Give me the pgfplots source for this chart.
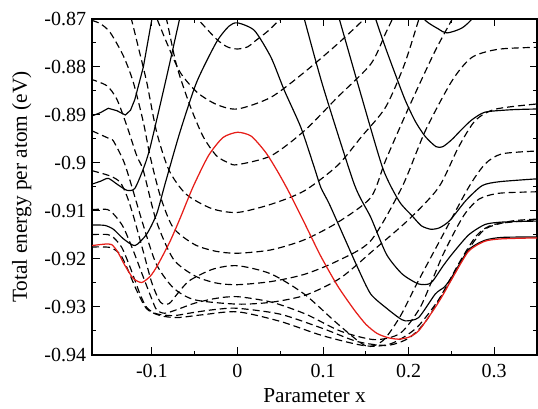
\documentclass[border=0pt]{standalone}
\usepackage{pgfplots}
\pgfplotsset{compat=1.18}
\usetikzlibrary{calc}
\usepackage{fontspec}
\setmainfont{Liberation Serif}
\definecolor{redline}{RGB}{230,30,25}
\begin{document}
\begin{tikzpicture}
\begin{axis}[
    scale only axis,
    width=267pt, height=201.6pt,
    xmin=-0.17, xmax=0.35, ymin=-0.94, ymax=-0.87,
    xtick={-0.1,0,0.1,0.2,0.3},
    ytick={-0.94,-0.93,-0.92,-0.91,-0.9,-0.89,-0.88,-0.87},
    minor x tick num=1, minor y tick num=1,
    tick align=inside, tickpos=both,
    major tick length=4.5pt, minor tick length=2.4pt,
    axis line style={line width=0.9pt},
    every tick/.style={line width=0.6pt, black},
    /pgf/number format/assume math mode=true,
    yticklabel style={/pgf/number format/fixed, /pgf/number format/precision=2},
    xticklabel style={/pgf/number format/fixed, yshift=-2pt},
    ticklabel style={font=\fontsize{12}{14}\selectfont},
    xlabel={Parameter x}, ylabel={Total energy per atom (eV)},
    label style={font=\fontsize{12.8}{15}\selectfont},
    xlabel style={at={(axis description cs:0.5,-0.122)}, anchor=center},
    ylabel style={at={(axis description cs:-0.158,0.5)}, anchor=center},
    every axis plot/.append style={line width=0.7pt},
]
\pgfplotsset{dsh/.style={black, dash pattern=on 4.2pt off 2.4pt, smooth, tension=0.45}}
% dashed curves with a minimum at x = 0
\addplot[dsh] coordinates {(-0.052,-0.8690) (-0.045,-0.8703) (-0.0245,-0.8742) (-0.012,-0.8758) (0,-0.87625) (0.012,-0.8758) (0.0198,-0.8747) (0.035,-0.8726) (0.05,-0.8700) (0.055,-0.8690)};
\addplot[dsh] coordinates {(-0.099,-0.8680) (-0.094,-0.8700) (-0.083,-0.8748) (-0.067,-0.8811) (-0.047,-0.8853) (-0.0245,-0.8878) (0,-0.88875) (0.0392,-0.8863) (0.0781,-0.8811) (0.1169,-0.8752) (0.148,-0.8700) (0.153,-0.8685)};
\addplot[dsh] coordinates {(-0.088,-0.8675) (-0.083,-0.8700) (-0.0711,-0.8797) (-0.0556,-0.8880) (-0.0401,-0.8945) (-0.0245,-0.8985) (-0.01,-0.9000) (0,-0.90035) (0.0392,-0.8985) (0.0781,-0.8933) (0.1169,-0.8863) (0.1557,-0.8794) (0.173,-0.8730) (0.181,-0.8700) (0.185,-0.8680)};
\addplot[dsh] coordinates {(-0.128,-0.8675) (-0.124,-0.8700) (-0.115,-0.8765) (-0.106,-0.8832) (-0.0944,-0.8936) (-0.08,-0.9015) (-0.06,-0.9065) (-0.03,-0.9095) (0,-0.9103) (0.0392,-0.9086) (0.0781,-0.9058) (0.117,-0.9005) (0.145,-0.8945) (0.173,-0.8884) (0.195,-0.8795) (0.212,-0.8700) (0.216,-0.8675)};
\addplot[dsh] coordinates {(-0.17,-0.8703) (-0.16,-0.8710) (-0.1488,-0.8728) (-0.1333,-0.8777) (-0.1217,-0.8832) (-0.11,-0.8915) (-0.1022,-0.8985) (-0.09,-0.9070) (-0.075,-0.9135) (-0.05,-0.9170) (-0.025,-0.9184) (0,-0.9188) (0.0392,-0.9181) (0.0781,-0.9160) (0.1169,-0.9124) (0.1557,-0.9072) (0.173,-0.8995) (0.20,-0.8885) (0.23,-0.8770) (0.251,-0.8700) (0.256,-0.8685)};
\addplot[dsh] coordinates {(-0.172,-0.8825) (-0.1527,-0.8839) (-0.141,-0.8867) (-0.1294,-0.8922) (-0.1177,-0.8985) (-0.11,-0.9016) (-0.095,-0.9120) (-0.075,-0.9200) (-0.05,-0.9235) (-0.025,-0.9250) (0,-0.92535) (0.0392,-0.9247) (0.0781,-0.9232) (0.1169,-0.9204) (0.1557,-0.9162) (0.1923,-0.9050) (0.2195,-0.8933) (0.2506,-0.8829) (0.2739,-0.8780) (0.3049,-0.8763) (0.35,-0.8759)};
\addplot[dsh] coordinates {(-0.17,-0.8933) (-0.1488,-0.8950) (-0.145,-0.8954) (-0.1333,-0.8995) (-0.1255,-0.9037) (-0.11,-0.9130) (-0.095,-0.9210) (-0.075,-0.9260) (-0.05,-0.9285) (0,-0.9294) (0.04,-0.9290) (0.08,-0.9275) (0.12,-0.9240) (0.16,-0.9180) (0.20,-0.9118) (0.235,-0.9051) (0.2583,-0.8967) (0.2777,-0.8912) (0.301,-0.8888) (0.35,-0.8877)};
% dashed curves with a maximum at x = 0
\addplot[dsh] coordinates {(-0.17,-0.9016) (-0.1488,-0.9027) (-0.1372,-0.9040) (-0.1294,-0.9068) (-0.1217,-0.9110) (-0.11,-0.9185) (-0.10,-0.9250) (-0.09,-0.9290) (-0.08,-0.9293) (-0.07,-0.9272) (-0.056,-0.9245) (-0.0284,-0.9221) (0,-0.9214) (0.039,-0.9231) (0.078,-0.9273) (0.117,-0.9335) (0.15,-0.9381) (0.17,-0.9370) (0.19,-0.9320) (0.21,-0.9250) (0.24,-0.9150) (0.27,-0.9051) (0.2894,-0.9002) (0.3089,-0.8981) (0.35,-0.8975)};
\addplot[dsh] coordinates {(-0.17,-0.9097) (-0.152,-0.9097) (-0.143,-0.9110) (-0.1333,-0.9134) (-0.1217,-0.9183) (-0.11,-0.9238) (-0.1002,-0.9283) (-0.0944,-0.9306) (-0.085,-0.9313) (-0.07,-0.9305) (-0.05,-0.9292) (-0.025,-0.9282) (0,-0.92785) (0.04,-0.9290) (0.08,-0.9315) (0.12,-0.9350) (0.16,-0.9368) (0.19,-0.9355) (0.2125,-0.9304) (0.228,-0.9242) (0.2396,-0.9193) (0.2552,-0.9138) (0.2669,-0.9103) (0.2824,-0.9075) (0.3057,-0.9063) (0.35,-0.9060)};
\addplot[dsh] coordinates {(-0.17,-0.9149) (-0.152,-0.9149) (-0.145,-0.9155) (-0.1352,-0.9176) (-0.1255,-0.9217) (-0.1139,-0.9273) (-0.106,-0.9301) (-0.095,-0.9314) (-0.075,-0.9318) (-0.05,-0.9311) (-0.025,-0.9305) (0,-0.93027) (0.05,-0.9315) (0.10,-0.9345) (0.14,-0.9372) (0.175,-0.9380) (0.20,-0.9365) (0.22,-0.9330) (0.24,-0.9270) (0.26,-0.9205) (0.28,-0.9150) (0.30,-0.9128) (0.35,-0.9118)};
\addplot[dsh] coordinates {(-0.17,-0.9175) (-0.1488,-0.9176) (-0.1372,-0.9190) (-0.1294,-0.9217) (-0.1177,-0.9266) (-0.106,-0.9304) (-0.09,-0.9318) (-0.07,-0.9322) (-0.04,-0.9316) (0,-0.9310) (0.05,-0.9330) (0.10,-0.9360) (0.15,-0.9381) (0.18,-0.9376) (0.21,-0.9342) (0.24,-0.9272) (0.27,-0.9180) (0.29,-0.9137) (0.32,-0.9121) (0.35,-0.9117)};
% solid black curves
\addplot[black, smooth, tension=0.4] coordinates {(-0.17,-0.9129) (-0.155,-0.9130) (-0.145,-0.9138) (-0.1333,-0.9158) (-0.1197,-0.9172) (-0.106,-0.9148) (-0.0944,-0.9106) (-0.0847,-0.9044) (-0.0673,-0.8936) (-0.0478,-0.8832) (-0.0245,-0.8748) (-0.01,-0.8715) (0,-0.8708) (0.0198,-0.8724) (0.0392,-0.8780) (0.0548,-0.8849) (0.0741,-0.8926) (0.0897,-0.9009) (0.0974,-0.9051) (0.1072,-0.9085) (0.1247,-0.9155) (0.1402,-0.9217) (0.1557,-0.9273) (0.1752,-0.9304) (0.1883,-0.9322) (0.1962,-0.9329) (0.2117,-0.9322) (0.2311,-0.9273) (0.242,-0.9258) (0.251,-0.9236) (0.270,-0.9181) (0.289,-0.9161) (0.309,-0.9155) (0.35,-0.9154)};
\addplot[black, smooth, tension=0.4] coordinates {(-0.17,-0.9044) (-0.16,-0.9038) (-0.151,-0.9032) (-0.140,-0.9045) (-0.129,-0.9057) (-0.120,-0.9053) (-0.110,-0.9012) (-0.102,-0.8967) (-0.083,-0.8822) (-0.067,-0.8695) (-0.062,-0.8660)};
\addplot[black, smooth, tension=0.4] coordinates {(0.072,-0.8660) (0.0781,-0.8700) (0.100,-0.8841) (0.1364,-0.9044) (0.1557,-0.9113) (0.1740,-0.9190) (0.1923,-0.9231) (0.2117,-0.9252) (0.226,-0.9250) (0.240,-0.9215) (0.2506,-0.9190) (0.27,-0.9150) (0.2894,-0.9128) (0.31,-0.9123) (0.35,-0.9121)};
\addplot[black, sharp plot] coordinates {(-0.17,-0.8902) (-0.160,-0.8895) (-0.151,-0.8886) (-0.141,-0.8891) (-0.131,-0.8900) (-0.125,-0.8890) (-0.120,-0.8868) (-0.110,-0.8800) (-0.100,-0.8700) (-0.095,-0.8660)};
\addplot[black, smooth, tension=0.4] coordinates {(0.113,-0.8660) (0.119,-0.8700) (0.145,-0.8862) (0.170,-0.9012) (0.189,-0.9080) (0.204,-0.9110) (0.215,-0.9131) (0.226,-0.9138) (0.236,-0.9135) (0.248,-0.9120) (0.267,-0.9078) (0.286,-0.9047) (0.306,-0.9039) (0.35,-0.9033)};
\addplot[black, smooth, tension=0.4] coordinates {(0.155,-0.8655) (0.1615,-0.8700) (0.1728,-0.8759) (0.185,-0.8818) (0.1962,-0.8870) (0.208,-0.8914) (0.2195,-0.8945) (0.232,-0.8966) (0.240,-0.8966) (0.2506,-0.8951) (0.262,-0.8930) (0.2739,-0.8910) (0.2894,-0.8894) (0.3205,-0.8889) (0.35,-0.88875)};
\addplot[black, smooth, tension=0.5] coordinates {(0.212,-0.8680) (0.2195,-0.8703) (0.235,-0.8721) (0.2448,-0.8729) (0.262,-0.8719) (0.2739,-0.8700) (0.28,-0.8680)};
% red curve
\addplot[redline, smooth, tension=0.4, line width=0.75pt] coordinates {(-0.170,-0.9172) (-0.155,-0.9169) (-0.147,-0.9170) (-0.140,-0.9185) (-0.132,-0.9212) (-0.122,-0.9240) (-0.112,-0.9249) (-0.102,-0.9236) (-0.094,-0.9215) (-0.079,-0.9164) (-0.067,-0.9115) (-0.052,-0.9050) (-0.034,-0.8985) (-0.017,-0.8947) (0,-0.8936) (0.016,-0.8944) (0.033,-0.8978) (0.047,-0.9018) (0.060,-0.9060) (0.078,-0.9124) (0.097,-0.9193) (0.117,-0.9256) (0.136,-0.9305) (0.150,-0.9336) (0.163,-0.9355) (0.176,-0.9364) (0.188,-0.9367) (0.200,-0.9363) (0.212,-0.9349) (0.231,-0.9301) (0.241,-0.9272) (0.251,-0.9240) (0.270,-0.9184) (0.289,-0.9163) (0.309,-0.9158) (0.35,-0.9156)};
\end{axis}
\useasboundingbox ($(current axis.south west)+(-55.2pt,-31.8pt)$) rectangle ($(current axis.north east)+(0.6pt,11.4pt)$);
\end{tikzpicture}
\end{document}
